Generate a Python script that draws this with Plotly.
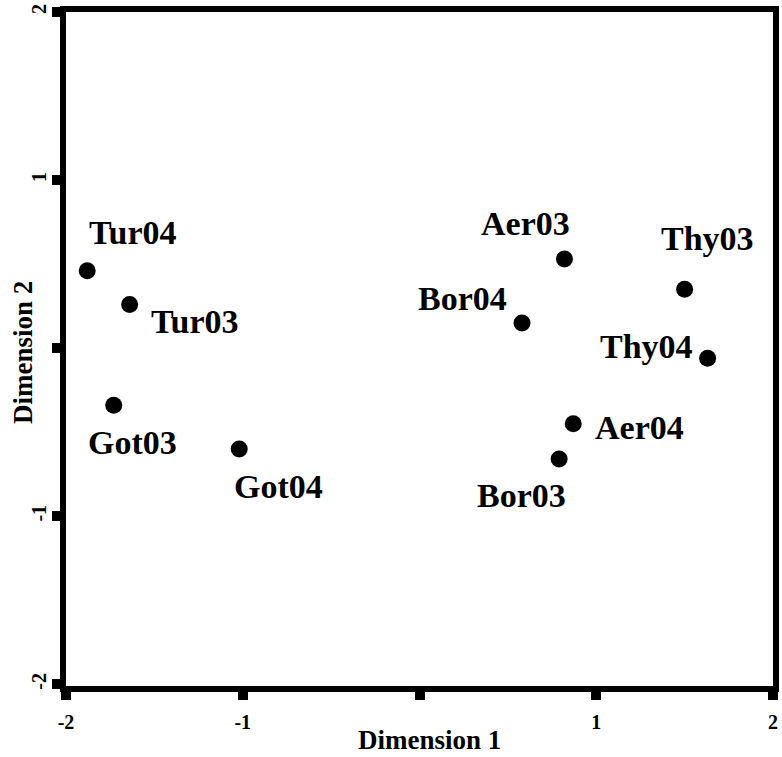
import plotly.graph_objects as go

# ── data ──────────────────────────────────────────────────────────────────────
sites = ["Tur04", "Tur03", "Got03", "Got04", "Aer03",
         "Bor04", "Thy03", "Thy04", "Aer04", "Bor03"]
dim1 = [-1.88, -1.64, -1.73, -1.02, 0.82, 0.58, 1.50, 1.63, 0.87, 0.79]
dim2 = [0.46, 0.26, -0.34, -0.60, 0.53, 0.15, 0.35, -0.06, -0.45, -0.66]

tick_vals = [-2, -1, 0, 1, 2]
tick_text = ["-2", "-1", "", "1", "2"]

# label offsets in pixels (dx, dy) relative to each point, y up
LABEL_SHIFT = {
    "Tur04": (46, 38), "Tur03": (65, -17), "Got03": (19, -37),
    "Got04": (39, -37), "Aer03": (-39, 36), "Bor04": (-60, 24),
    "Thy03": (23, 51), "Thy04": (-61, 12), "Aer04": (66, -4),
    "Bor03": (-38, -36),
}

FONT = "Liberation Serif, Times New Roman, serif"
TITLE_FONT = dict(family=FONT, size=27, color="black", weight="bold")

fig = go.Figure()
fig.add_trace(go.Scatter(
    x=dim1, y=dim2, mode="markers",
    marker=dict(size=17, color="black"),
    hoverinfo="text", text=sites,
))

for name, x, y in zip(sites, dim1, dim2):
    dx, dy = LABEL_SHIFT[name]
    fig.add_annotation(
        x=x, y=y, text=name, showarrow=False,
        xshift=dx, yshift=dy,
        font=dict(family=FONT, size=34, color="black", weight="bold"),
    )

# axis titles (placed as annotations to sit where the original has them)
fig.add_annotation(
    text="Dimension 1", xref="paper", yref="paper", x=0.5, y=0,
    xanchor="center", yanchor="middle",
    xshift=10, yshift=-54, showarrow=False, font=TITLE_FONT,
)
fig.add_annotation(
    text="Dimension 2", xref="paper", yref="paper", x=0, y=0.5,
    xanchor="center", yanchor="middle",
    xshift=-43, yshift=-4, textangle=-90, showarrow=False, font=TITLE_FONT,
)

axis_common = dict(
    showline=True, linewidth=6, linecolor="black", mirror=True,
    ticks="outside", ticklen=8, tickwidth=10, tickcolor="black",
    showgrid=False, zeroline=False, automargin=False,
    tickvals=tick_vals, ticktext=tick_text,
    tickfont=dict(family=FONT, size=20, color="black", weight="bold"),
)

fig.update_xaxes(**axis_common, range=[-2.0, 2.0], ticklabelstandoff=5)
fig.update_yaxes(**axis_common, range=[-2.01, 2.0], tickangle=-90,
                 ticklabelstandoff=-2)

fig.update_layout(
    width=782, height=757,
    margin=dict(l=66, r=9, t=12, b=71),
    plot_bgcolor="white", paper_bgcolor="white",
    showlegend=False,
)

fig.write_html("out.html", config={"displayModeBar": False},
               post_script="document.body.style.margin='0';")
